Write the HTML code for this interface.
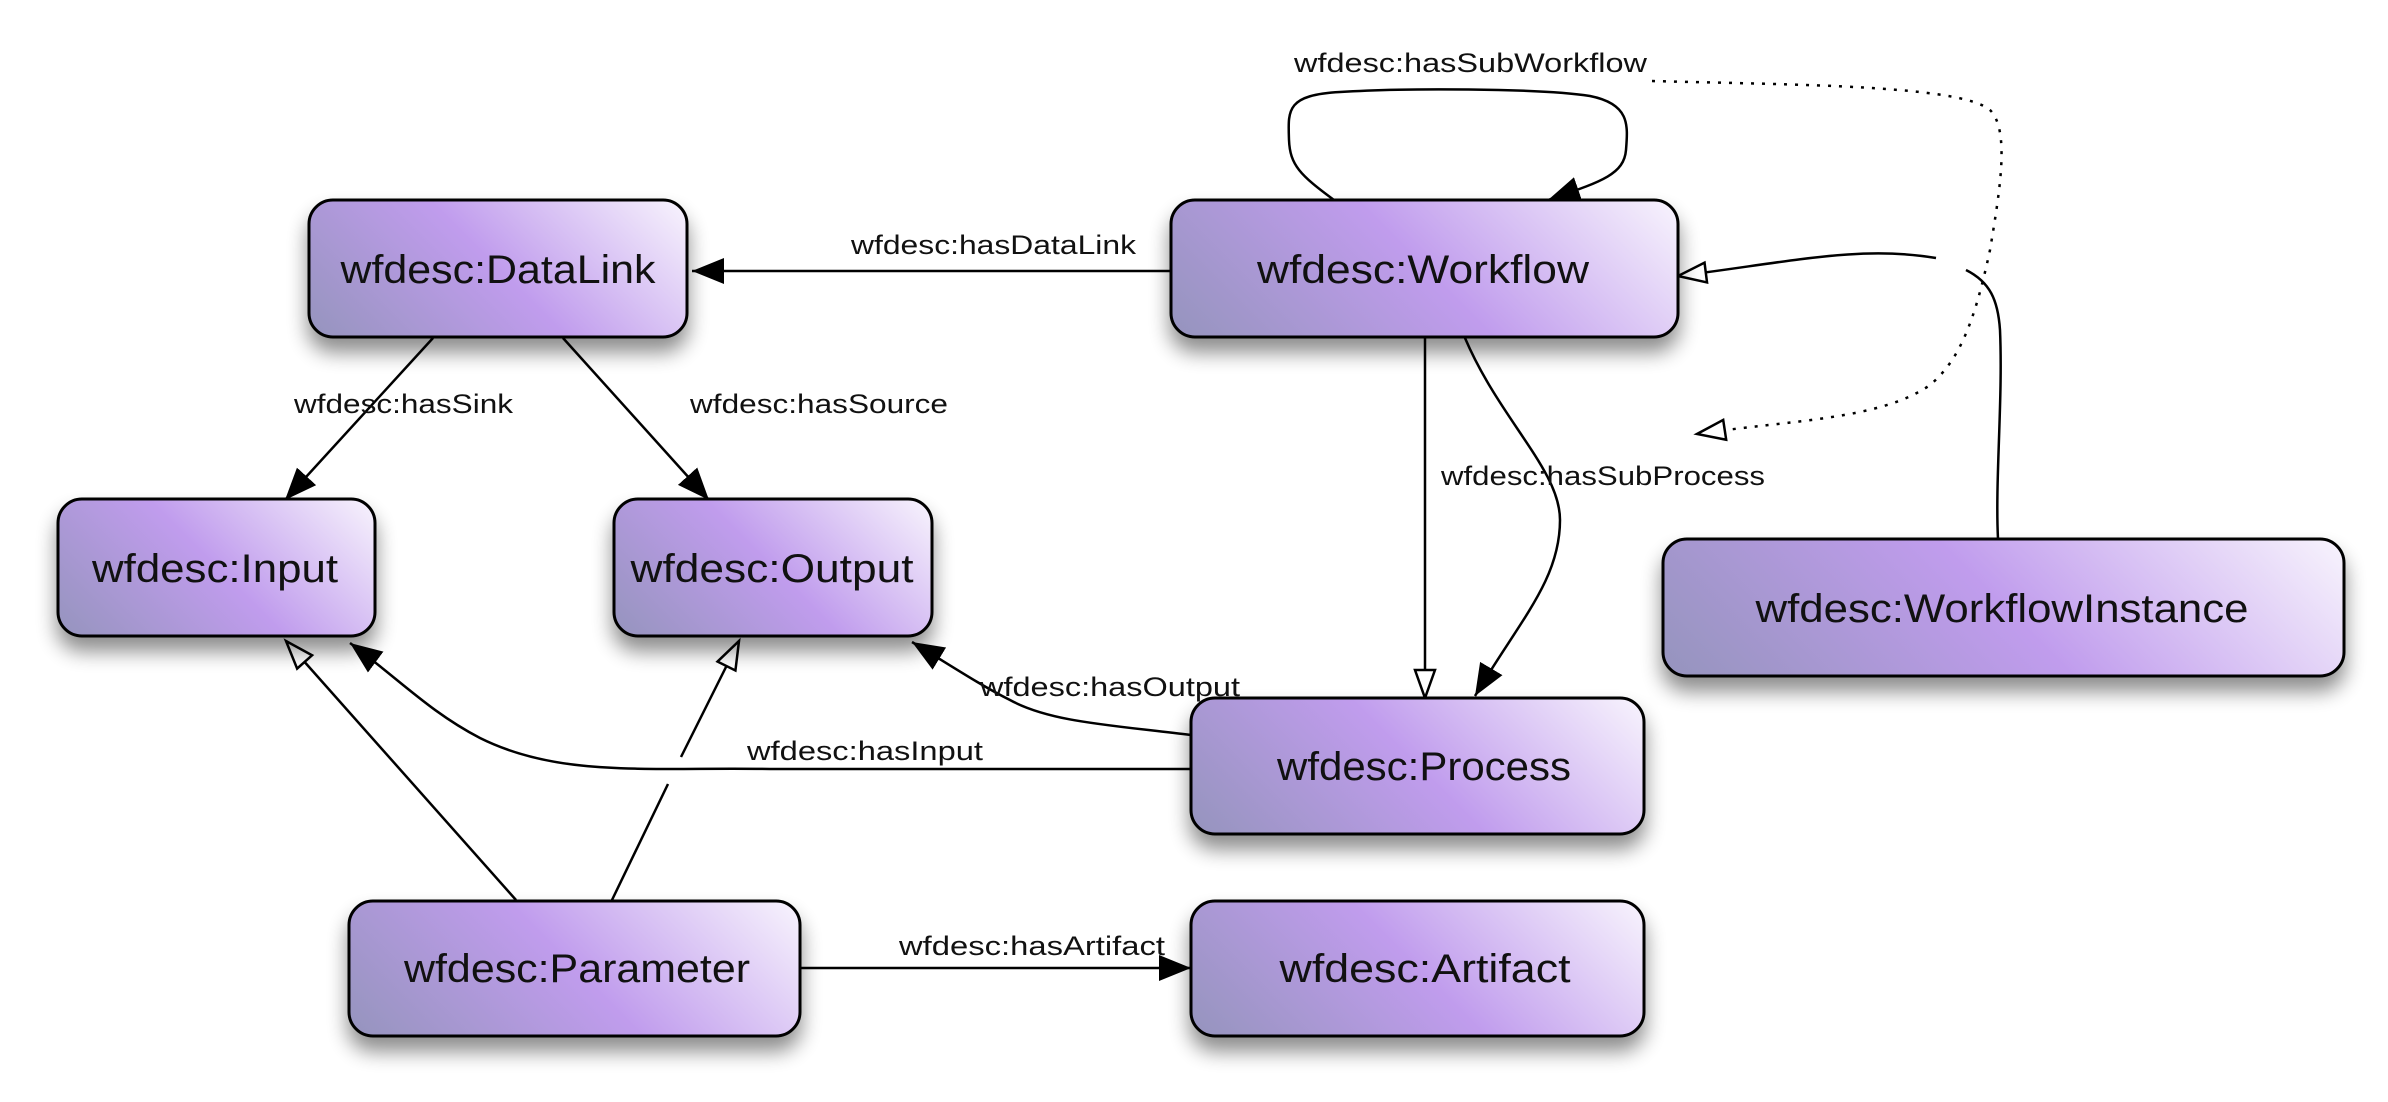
<!DOCTYPE html>
<html><head><meta charset="utf-8"><style>
html,body{margin:0;padding:0;background:#fff;}
svg{display:block;}
.bl{font-family:"Liberation Sans",sans-serif;font-size:40px;fill:#111;}
.el{font-family:"Liberation Sans",sans-serif;font-size:27px;fill:#111;}
</style></head><body>
<svg width="2388" height="1102" viewBox="0 0 2388 1102" xmlns="http://www.w3.org/2000/svg">
<defs>
<linearGradient id="g1" gradientUnits="userSpaceOnUse" x1="309" y1="337" x2="566" y2="80"><stop offset="0" stop-color="#9594bd"/><stop offset="0.5" stop-color="#c09ced"/><stop offset="1" stop-color="#f8f4fd"/></linearGradient>
<linearGradient id="g2" gradientUnits="userSpaceOnUse" x1="1171" y1="337" x2="1493" y2="15"><stop offset="0" stop-color="#9594bd"/><stop offset="0.5" stop-color="#c09ced"/><stop offset="1" stop-color="#f8f4fd"/></linearGradient>
<linearGradient id="g3" gradientUnits="userSpaceOnUse" x1="58" y1="636" x2="285" y2="409"><stop offset="0" stop-color="#9594bd"/><stop offset="0.5" stop-color="#c09ced"/><stop offset="1" stop-color="#f8f4fd"/></linearGradient>
<linearGradient id="g4" gradientUnits="userSpaceOnUse" x1="614" y1="636" x2="841" y2="409"><stop offset="0" stop-color="#9594bd"/><stop offset="0.5" stop-color="#c09ced"/><stop offset="1" stop-color="#f8f4fd"/></linearGradient>
<linearGradient id="g5" gradientUnits="userSpaceOnUse" x1="1663" y1="676" x2="2072" y2="267"><stop offset="0" stop-color="#9594bd"/><stop offset="0.5" stop-color="#c09ced"/><stop offset="1" stop-color="#f8f4fd"/></linearGradient>
<linearGradient id="g6" gradientUnits="userSpaceOnUse" x1="1191" y1="834" x2="1485" y2="540"><stop offset="0" stop-color="#9594bd"/><stop offset="0.5" stop-color="#c09ced"/><stop offset="1" stop-color="#f8f4fd"/></linearGradient>
<linearGradient id="g7" gradientUnits="userSpaceOnUse" x1="349" y1="1036" x2="642" y2="743"><stop offset="0" stop-color="#9594bd"/><stop offset="0.5" stop-color="#c09ced"/><stop offset="1" stop-color="#f8f4fd"/></linearGradient>
<linearGradient id="g8" gradientUnits="userSpaceOnUse" x1="1191" y1="1036" x2="1485" y2="742"><stop offset="0" stop-color="#9594bd"/><stop offset="0.5" stop-color="#c09ced"/><stop offset="1" stop-color="#f8f4fd"/></linearGradient>
<filter id="sh" x="-10%" y="-20%" width="120%" height="170%">
<feGaussianBlur in="SourceAlpha" stdDeviation="10"/>
<feOffset dy="14"/>
<feComponentTransfer><feFuncA type="linear" slope="0.45"/></feComponentTransfer>
<feMerge><feMergeNode/><feMergeNode in="SourceGraphic"/></feMerge>
</filter>
<marker id="fa" markerUnits="userSpaceOnUse" markerWidth="40" markerHeight="40" refX="32" refY="13" orient="auto">
<path d="M0,0 L32,13 L0,26 z" fill="#000"/>
</marker>
<marker id="ha" markerUnits="userSpaceOnUse" markerWidth="40" markerHeight="40" refX="30" refY="12" orient="auto">
<path d="M2,2 L30,12 L2,22 z" fill="#fff" stroke="#000" stroke-width="2.5"/>
</marker>
</defs>

<g fill="none" stroke="#000" stroke-width="2.5">
<path d="M1171,271 L692,271" marker-end="url(#fa)"/>
<path d="M433,338 L285,500" marker-end="url(#fa)"/>
<path d="M563,338 L709,500" marker-end="url(#fa)"/>
<path d="M1334,200 C1300,175 1290,165 1289,140 C1288,110 1286,95 1340,92 C1400,88 1540,88 1590,96 C1630,104 1628,125 1626,150 C1624,175 1600,182 1548,200" marker-end="url(#fa)"/>
<path d="M1652,81 C1800,85 1960,85 1990,110 C2010,130 2000,190 1990,250 C1975,320 1960,360 1930,385 C1880,420 1790,420 1697,434" stroke-dasharray="3,8" marker-end="url(#ha)"/>
<path d="M1998,539 C1995,480 2003,400 2000,330 C1998,300 1990,282 1966,270"/>
<path d="M1936,258 C1860,245 1790,262 1678,276" marker-end="url(#ha)"/>
<path d="M1425,338 L1425,698" marker-end="url(#ha)"/>
<path d="M1465,338 C1500,420 1560,470 1560,520 C1560,580 1520,620 1475,696" marker-end="url(#fa)"/>
<path d="M1191,735 C1110,725 1050,722 1010,700 C980,685 950,665 912,642" marker-end="url(#fa)"/>
<path d="M1191,769 L770,769 C650,767 560,778 480,738 C430,712 400,680 350,643" marker-end="url(#fa)"/>
<path d="M516,900 L286,641" marker-end="url(#ha)"/>
<path d="M612,900 L668,784"/>
<path d="M681,757 L739,641" marker-end="url(#ha)"/>
<path d="M800,968 L1191,968" marker-end="url(#fa)"/>
</g>

<g filter="url(#sh)" stroke="#000" stroke-width="3">
<rect x="309" y="200" width="378" height="137" rx="24" fill="url(#g1)"/>
<rect x="1171" y="200" width="507" height="137" rx="24" fill="url(#g2)"/>
<rect x="58" y="499" width="317" height="137" rx="24" fill="url(#g3)"/>
<rect x="614" y="499" width="318" height="137" rx="24" fill="url(#g4)"/>
<rect x="1663" y="539" width="681" height="137" rx="24" fill="url(#g5)"/>
<rect x="1191" y="698" width="453" height="136" rx="24" fill="url(#g6)"/>
<rect x="349" y="901" width="451" height="135" rx="24" fill="url(#g7)"/>
<rect x="1191" y="901" width="453" height="135" rx="24" fill="url(#g8)"/>
</g>

<g class="bl" text-anchor="middle">
<text x="498" y="283" textLength="315" lengthAdjust="spacingAndGlyphs">wfdesc:DataLink</text>
<text x="1423" y="283" textLength="332" lengthAdjust="spacingAndGlyphs">wfdesc:Workflow</text>
<text x="215" y="582" textLength="246" lengthAdjust="spacingAndGlyphs">wfdesc:Input</text>
<text x="772" y="582" textLength="283" lengthAdjust="spacingAndGlyphs">wfdesc:Output</text>
<text x="2002" y="622" textLength="493" lengthAdjust="spacingAndGlyphs">wfdesc:WorkflowInstance</text>
<text x="1424" y="780" textLength="294" lengthAdjust="spacingAndGlyphs">wfdesc:Process</text>
<text x="577" y="982" textLength="346" lengthAdjust="spacingAndGlyphs">wfdesc:Parameter</text>
<text x="1425" y="982" textLength="291" lengthAdjust="spacingAndGlyphs">wfdesc:Artifact</text>
</g>

<g class="el">
<text x="851" y="254" textLength="285" lengthAdjust="spacingAndGlyphs">wfdesc:hasDataLink</text>
<text x="294" y="413" textLength="219" lengthAdjust="spacingAndGlyphs">wfdesc:hasSink</text>
<text x="690" y="413" textLength="258" lengthAdjust="spacingAndGlyphs">wfdesc:hasSource</text>
<text x="1294" y="72" textLength="353" lengthAdjust="spacingAndGlyphs">wfdesc:hasSubWorkflow</text>
<text x="1441" y="485" textLength="324" lengthAdjust="spacingAndGlyphs">wfdesc:hasSubProcess</text>
<text x="980" y="696" textLength="260" lengthAdjust="spacingAndGlyphs">wfdesc:hasOutput</text>
<text x="747" y="760" textLength="236" lengthAdjust="spacingAndGlyphs">wfdesc:hasInput</text>
<text x="899" y="955" textLength="266" lengthAdjust="spacingAndGlyphs">wfdesc:hasArtifact</text>
</g>
</svg>
</body></html>
